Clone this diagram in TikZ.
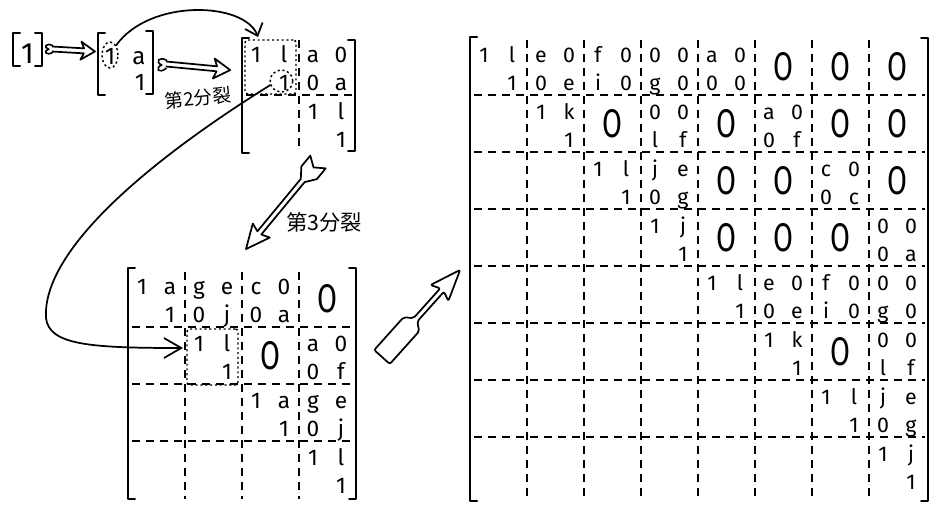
\documentclass[tikz,border=0pt]{standalone}
\usepackage{fontspec}
\setmainfont{Fira Sans}
\newfontfamily\cjkfont{Noto Sans CJK SC}
\usetikzlibrary{arrows.meta,shapes.geometric}

% size of the entries of the matrix being drawn
\def\entsize{16}
\tikzset{
  ent/.style={inner sep=0pt, anchor=base, font=\fontsize{#1}{#1}\selectfont},
  ent/.default=16,
  zero/.style={inner sep=0pt},
  bracket/.style={line width=1.5pt, line cap=round, line join=round},
  griddash/.style={line width=1.5pt, dash pattern=on 6pt off 4.5pt},
  dotline/.style={line width=1.1pt, dash pattern=on 1.6pt off 2pt, rounded corners=2pt},
  dotbox/.style={dotline, draw, inner sep=0pt, rectangle},
  dotring/.style={dotline, draw, inner sep=0pt, ellipse},
  conn/.style={line width=1.3pt, line cap=round},
  outline/.style={line width=1.3pt, line join=round, fill=white},
  cjk/.style={inner sep=0pt, font=\cjkfont\fontsize{#1}{#1}\selectfont},
}

% one 2x2 block: prefix, x0, y0, column, row, four entries
\newcommand\blockent[9]{%
  \node[ent=\entsize] (#1-#5#4a) at ({#2+57*(#4-1)+14},{#3+57*(#5-1)+24}) {#6};
  \node[ent=\entsize] (#1-#5#4b) at ({#2+57*(#4-1)+42},{#3+57*(#5-1)+24}) {#7};
  \node[ent=\entsize] (#1-#5#4c) at ({#2+57*(#4-1)+14},{#3+57*(#5-1)+52}) {#8};
  \node[ent=\entsize] (#1-#5#4d) at ({#2+57*(#4-1)+42},{#3+57*(#5-1)+52}) {#9};
}
\newcommand\zeroglyph{\scalebox{0.72}[1]{\fontsize{30}{30}\selectfont O}}
% a zero block: prefix, x0, y0, column, row
\newcommand\zeroblk[5]{%
  \node[zero] (#1-#5#4o) at ({#2+57*(#4-1)+28.5},{#3+57*(#5-1)+28.5}) {\zeroglyph};
}
\newcommand\bracketL[3]{\draw[bracket] ({#1+7},#2) -- (#1,#2) -- (#1,#3) -- ({#1+7},#3);}
\newcommand\bracketR[3]{\draw[bracket] ({#1-7},#2) -- (#1,#2) -- (#1,#3) -- ({#1-7},#3);}

\begin{document}
\begin{tikzpicture}[x=0.75pt,y=-0.75pt]
\useasboundingbox (0,0) rectangle (944,504);
\fill[white] (0,0) rectangle (944,504);

% ---- [1]
\bracketL{13}{33}{66}
\node[ent=22] (one) at (27.5,63) {1};
\bracketR{42}{33}{66}

% ---- first split: 2x2
\bracketL{98}{33}{95}
\bracketR{153}{31}{94}
\node[ent=18] (p11) at (110,64) {1};
\node[ent=18] (p12) at (139,64) {a};
\node[ent=18] (p22) at (140,90) {1};
\node[dotring, minimum width=12pt, minimum height=19.5pt] (c1) at (110,55) {};

% hollow arrow [1] => 2x2
\begin{scope}[shift={(52,49)}, rotate=-3.3]
  \draw[outline, fill=none] (0,2.5) -- (32,2.5) -- (29,9) -- (43,0) -- (29,-9)
    -- (32,-2.5) -- (0,-2.5);
\end{scope}
\draw[line width=1.2pt] (53,45.8) .. controls (46,42) and (43,47.5) .. (48.5,49.2)
  .. controls (43,51) and (46,56.5) .. (53,52.2);

% ---- second split: 4x4
\def\entsize{17}
\bracketL{242}{38}{153}
\bracketR{355}{40}{151}
\draw[griddash] (299,40) -- (299,152);
\draw[griddash] (246,95) -- (352,95);
\blockent{T}{242}{38}{1}{1}{1}{l}{}{1}
\blockent{T}{242}{38}{2}{1}{a}{0}{0}{a}
\blockent{T}{242}{38}{2}{2}{1}{l}{}{1}
\node[dotbox, minimum width=38.25pt, minimum height=40.5pt] (tbox) at (270.5,67) {};
\node[dotring, minimum width=17pt, minimum height=16.5pt] (tc) at (281.5,81) {};

% hollow arrow 2x2 => 4x4 with its label
\begin{scope}[shift={(166,64)}, rotate=-5.4]
  \draw[outline, fill=none] (0,2.5) -- (51,2.5) -- (48,10) -- (64.5,0) -- (48,-10)
    -- (51,-2.5) -- (0,-2.5);
\end{scope}
\draw[line width=1.2pt] (167,60.6) .. controls (159,55.5) and (155,62) .. (161.5,65)
  .. controls (155,68) and (158,74.5) .. (166.5,68.2);
\node[cjk=14, rotate=6] (lab2) at (198,98) {第2分裂};

% curved pointer from the circled 1 to the upper-left block
\coordinate (a1end) at (258,37);
\draw[conn, -{Straight Barb[length=8pt, width=14pt]}] (c1.north east)
  .. controls (150,-2) and (245,2) .. (a1end);

% ---- third split arrow with label
\begin{scope}[shift={(318,162)}, rotate=-129.6]
  \draw[outline] (24,2.5) -- (92,2.5) -- (89,11) -- (113,0) -- (89,-11) -- (92,-2.5)
    -- (24,-2.5) -- (14,-10) -- (0,-10) -- (7,0) -- (0,10) -- (14,10) -- cycle;
\end{scope}
\node[cjk=16] (lab3) at (324,222) {第3分裂};

% ---- 8x8 partitioned matrix
\def\entsize{17}
\bracketL{128}{268}{499}
\bracketR{356}{268}{499}
\foreach \i in {1,2,3} {
  \draw[griddash] ({128+57*\i},272) -- ({128+57*\i},499);
  \draw[griddash] (132,{270+57*\i}) -- (353,{270+57*\i});
}
\blockent{M}{128}{270}{1}{1}{1}{a}{}{1}
\blockent{M}{128}{270}{2}{1}{g}{e}{0}{j}
\blockent{M}{128}{270}{3}{1}{c}{0}{0}{a}
\zeroblk{M}{128}{270}{4}{1}
\blockent{M}{128}{270}{2}{2}{1}{l}{}{1}
\zeroblk{M}{128}{270}{3}{2}
\blockent{M}{128}{270}{4}{2}{a}{0}{0}{f}
\blockent{M}{128}{270}{3}{3}{1}{a}{}{1}
\blockent{M}{128}{270}{4}{3}{g}{e}{0}{j}
\blockent{M}{128}{270}{4}{4}{1}{l}{}{1}
\node[dotbox, minimum width=38.25pt, minimum height=42pt] (mbox) at (212.5,357) {};

% long pointer from the circled 1 down to the inner block
\coordinate (a2end) at (183,348);
\draw[conn, -{Straight Barb[length=13pt, width=15pt]}] (tc.200)
  .. controls (150,160) and (42,250) .. (46,318)
  .. controls (49,345) and (90,348) .. (a2end);

% ---- arrow to the final matrix
\begin{scope}[shift={(382,357)}, rotate=48.1]
  \draw[outline, rounded corners=1.5pt] (50,2.5) -- (90,2.5) -- (86,12) -- (117,0)
    -- (86,-12) -- (90,-2.5) -- (50,-2.5) -- (44,-10.5) -- (0,-10.5) -- (0,10.5)
    -- (44,10.5) -- cycle;
\end{scope}

% ---- 16x16 partitioned matrix
\def\entsize{16}
\bracketL{470}{37}{501}
\bracketR{928}{38}{501}
\foreach \i in {1,...,7} {
  \draw[griddash] ({470+57*\i},40) -- ({470+57*\i},501);
  \draw[griddash] (474,{38+57*\i}) -- (925,{38+57*\i});
}
% block row 1
\blockent{B}{470}{38}{1}{1}{1}{l}{}{1}
\blockent{B}{470}{38}{2}{1}{e}{0}{0}{e}
\blockent{B}{470}{38}{3}{1}{f}{0}{i}{0}
\blockent{B}{470}{38}{4}{1}{0}{0}{g}{0}
\blockent{B}{470}{38}{5}{1}{a}{0}{0}{0}
\zeroblk{B}{470}{38}{6}{1}
\zeroblk{B}{470}{38}{7}{1}
\zeroblk{B}{470}{38}{8}{1}
% block row 2
\blockent{B}{470}{38}{2}{2}{1}{k}{}{1}
\zeroblk{B}{470}{38}{3}{2}
\blockent{B}{470}{38}{4}{2}{0}{0}{l}{f}
\zeroblk{B}{470}{38}{5}{2}
\blockent{B}{470}{38}{6}{2}{a}{0}{0}{f}
\zeroblk{B}{470}{38}{7}{2}
\zeroblk{B}{470}{38}{8}{2}
% block row 3
\blockent{B}{470}{38}{3}{3}{1}{l}{}{1}
\blockent{B}{470}{38}{4}{3}{j}{e}{0}{g}
\zeroblk{B}{470}{38}{5}{3}
\zeroblk{B}{470}{38}{6}{3}
\blockent{B}{470}{38}{7}{3}{c}{0}{0}{c}
\zeroblk{B}{470}{38}{8}{3}
% block row 4
\blockent{B}{470}{38}{4}{4}{1}{j}{}{1}
\zeroblk{B}{470}{38}{5}{4}
\zeroblk{B}{470}{38}{6}{4}
\zeroblk{B}{470}{38}{7}{4}
\blockent{B}{470}{38}{8}{4}{0}{0}{0}{a}
% block row 5
\blockent{B}{470}{38}{5}{5}{1}{l}{}{1}
\blockent{B}{470}{38}{6}{5}{e}{0}{0}{e}
\blockent{B}{470}{38}{7}{5}{f}{0}{i}{0}
\blockent{B}{470}{38}{8}{5}{0}{0}{g}{0}
% block row 6
\blockent{B}{470}{38}{6}{6}{1}{k}{}{1}
\zeroblk{B}{470}{38}{7}{6}
\blockent{B}{470}{38}{8}{6}{0}{0}{l}{f}
% block row 7
\blockent{B}{470}{38}{7}{7}{1}{l}{}{1}
\blockent{B}{470}{38}{8}{7}{j}{e}{0}{g}
% block row 8
\blockent{B}{470}{38}{8}{8}{1}{j}{}{1}
\end{tikzpicture}
\end{document}
